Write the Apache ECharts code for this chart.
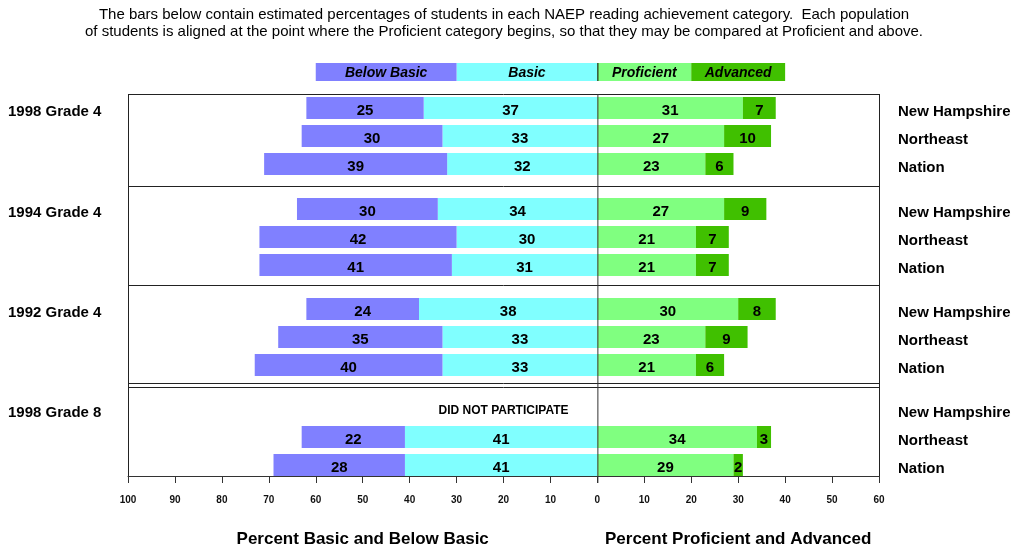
<!DOCTYPE html>
<html><head><meta charset="utf-8">
<script src="https://cdn.jsdelivr.net/npm/echarts/dist/echarts.min.js"></script>
<style>html,body{margin:0;padding:0;background:#fff}#c{width:1016px;height:548px}</style>
</head><body><div id="c"></div>
<script>
// ---- data ----
const groups = ['1998 Grade 4', '1994 Grade 4', '1992 Grade 4', '1998 Grade 8'];
const jurisdictions = ['New Hampshire', 'Northeast', 'Nation'];
const belowBasic = [[25, 30, 39], [30, 42, 41], [24, 35, 40], [null, 22, 28]];
const basic      = [[37, 33, 32], [34, 30, 31], [38, 33, 33], [null, 41, 41]];
const proficient = [[31, 27, 23], [27, 21, 21], [30, 23, 21], [null, 34, 29]];
const advanced   = [[7, 10, 6],   [9, 7, 7],    [8, 9, 6],    [null, 3, 2]];
const levelNames = ['Below Basic', 'Basic', 'Proficient', 'Advanced'];
const legendSpan = [30, 30, 20, 20];
const xMin = -100, xMax = 60, xStep = 10;
const titleLines = [
  'The bars below contain estimated percentages of students in each NAEP reading achievement category.  Each population',
  'of students is aligned at the point where the Proficient category begins, so that they may be compared at Proficient and above.'
];
const axisNames = ['Percent Basic and Below Basic', 'Percent Proficient and Advanced'];
const notParticipating = 'DID NOT PARTICIPATE';

// ---- style / layout ----
const FONT = '"Liberation Sans", Arial, Helvetica, sans-serif';
const COLORS = ['#8080ff', '#80ffff', '#80ff80', '#40c000'];
const GL = 128, GR = 1016 - 879;
const groupTops = [94, 195, 295, 395];
const groupH = 84;
const boxLinesY = [94, 186, 285, 383, 387, 476];
const boxTop = 94, boxBottom = 476;

const chart = echarts.init(document.getElementById('c'));

const grids = [{ left: GL, right: GR, top: 63, height: 18, outerBoundsMode: 'none', containLabel: false }];
groupTops.forEach(t => grids.push({ left: GL, right: GR, top: t, height: groupH, outerBoundsMode: 'none', containLabel: false }));
grids.push({ left: GL, right: GR, top: boxBottom - 1, height: 1, outerBoundsMode: 'none', containLabel: false });

const xAxes = grids.map((g, i) => {
  const isAxis = i === grids.length - 1;
  return {
    type: 'value', gridIndex: i, min: xMin, max: xMax, interval: xStep,
    show: isAxis,
    splitLine: { show: false },
    axisLine: { show: isAxis, lineStyle: { color: '#333', width: 1 } },
    axisTick: { show: isAxis, length: 7, lineStyle: { color: '#333' } },
    axisLabel: {
      show: isAxis, margin: 19, fontFamily: FONT, fontSize: 10, fontWeight: 'bold', color: '#111',
      formatter: v => String(Math.abs(v))
    }
  };
});

const rowLabelRich = { a: { padding: [8, 0, 0, 0], fontFamily: FONT, fontSize: 15, fontWeight: 'bold', color: '#000' } };
const yAxes = [{ type: 'category', gridIndex: 0, data: ['legend'], show: false }];
groups.forEach((g, k) => {
  yAxes.push({
    type: 'category', gridIndex: k + 1, data: jurisdictions, inverse: true, position: 'right',
    axisLine: { show: false }, axisTick: { show: false },
    axisLabel: { margin: 19, formatter: '{a|{value}}', rich: rowLabelRich }
  });
  yAxes.push({
    type: 'category', gridIndex: k + 1, data: [g, '', ''], inverse: true, position: 'left',
    axisLine: { show: false }, axisTick: { show: false },
    axisLabel: { margin: GL - 8, align: 'left', formatter: v => v ? '{a|' + v + '}' : '', rich: rowLabelRich }
  });
});
yAxes.push({ type: 'category', gridIndex: grids.length - 1, data: [''], show: false });

const series = [];
// legend bar
const legendOrder = [1, 0, 2, 3];
legendOrder.forEach(li => {
  const sign = li < 2 ? -1 : 1;
  series.push({
    type: 'bar', xAxisIndex: 0, yAxisIndex: 0, stack: 'legend', barWidth: 18,
    data: [sign * legendSpan[li]], itemStyle: { color: COLORS[li] },
    label: {
      show: true, position: 'inside', offset: [0, 1], formatter: levelNames[li], fontFamily: FONT,
      fontSize: 14, fontWeight: 'bold', fontStyle: 'italic', color: '#000'
    },
    silent: true
  });
});

const valueLabel = {
  show: true, position: 'inside', offset: [0, 3], fontFamily: FONT, fontSize: 15, fontWeight: 'bold', color: '#000',
  formatter: p => p.value == null ? '' : String(Math.abs(p.value))
};
const sets = [basic, belowBasic, proficient, advanced];
const setColor = [COLORS[1], COLORS[0], COLORS[2], COLORS[3]];
const setSign = [-1, -1, 1, 1];
groups.forEach((g, k) => {
  sets.forEach((s, si) => {
    series.push({
      type: 'bar', xAxisIndex: k + 1, yAxisIndex: 1 + 2 * k, stack: 'g' + k, barWidth: 22,
      data: s[k].map(v => v == null ? null : setSign[si] * v),
      itemStyle: { color: setColor[si] }, label: valueLabel, silent: true
    });
  });
});

chart.setOption({
  animation: false,
  backgroundColor: '#fff',
  grid: grids, xAxis: xAxes, yAxis: yAxes, series: series
});

// ---- decorations computed from the axes ----
const px = v => chart.convertToPixel({ xAxisIndex: 1 }, v);
const x0 = px(0), xl = px(xMin), xr = px(xMax);
const lineStyle = { stroke: '#222', lineWidth: 1 };
const gfx = [];
titleLines.forEach((t, i) => gfx.push({
  type: 'text', x: 504, y: 15 + i * 17,
  style: { text: t, font: '15px ' + FONT, fill: '#000', align: 'center', verticalAlign: 'middle' }
}));
boxLinesY.forEach(y => gfx.push({ type: 'line', shape: { x1: xl, y1: y + 0.5, x2: xr, y2: y + 0.5 }, style: lineStyle }));
[xl, xr].forEach(x => gfx.push({ type: 'line', shape: { x1: x + 0.5, y1: boxTop, x2: x + 0.5, y2: boxBottom + 1 }, style: lineStyle }));
gfx.push({ type: 'line', shape: { x1: x0 + 0.5, y1: boxTop, x2: x0 + 0.5, y2: boxBottom + 7 }, style: { stroke: '#333', lineWidth: 1 }, z: 10 });
gfx.push({ type: 'line', shape: { x1: x0 + 0.5, y1: 63, x2: x0 + 0.5, y2: 81 }, style: { stroke: '#000', lineWidth: 1 }, z: 10 });
// did not participate
const dnpY = chart.convertToPixel({ yAxisIndex: 7 }, 0);
gfx.push({
  type: 'text', x: px(-20), y: dnpY + 2,
  style: { text: notParticipating, font: 'bold 12px ' + FONT, fill: '#000', align: 'center', verticalAlign: 'middle' }
});
// axis names
[-50, 30].forEach((v, i) => gfx.push({
  type: 'text', x: px(v), y: 539,
  style: { text: axisNames[i], font: 'bold 17px ' + FONT, fill: '#000', align: 'center', verticalAlign: 'middle' }
}));
chart.setOption({ graphic: gfx });
</script>
</body></html>
